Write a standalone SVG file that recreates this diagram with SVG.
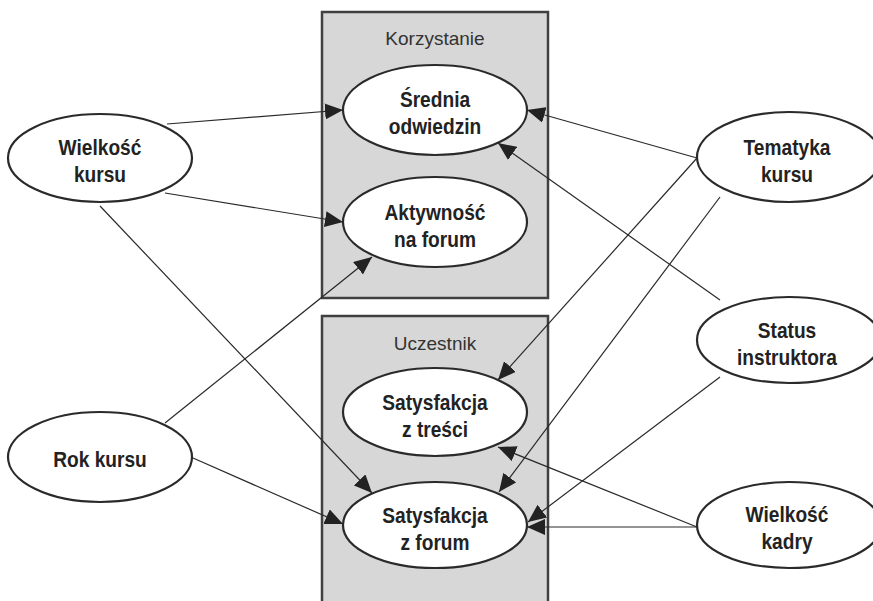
<svg xmlns="http://www.w3.org/2000/svg" width="873" height="601" viewBox="0 0 873 601">
<style>
.box{fill:#d6d7d6;stroke:#404040;stroke-width:2.5}
.node{fill:#fff;stroke:#2a2a2a;stroke-width:2.2}
.lbl{font-family:"Liberation Sans",Arial,sans-serif;font-weight:bold;font-size:22px;fill:#222;text-anchor:middle}
.ttl{font-family:"Liberation Sans",Arial,sans-serif;font-size:19px;fill:#333;text-anchor:middle}
.edge{stroke:#2a2a2a;stroke-width:1.2;fill:none;marker-end:url(#arr)}
</style>
<defs>
<marker id="arr" markerUnits="userSpaceOnUse" markerWidth="19" markerHeight="16" viewBox="0 0 19 16" refX="18" refY="8" orient="auto">
<path d="M0,0 L18,8 L0,16 Z" fill="#222"/>
</marker>
</defs>
<g id="group-korzystanie">
<rect class="box" x="322" y="12" width="226" height="286"/>
<text class="ttl" x="435" y="45">Korzystanie</text>
</g>
<g id="group-uczestnik">
<rect class="box" x="322" y="316" width="226" height="300"/>
<text class="ttl" x="435" y="350">Uczestnik</text>
</g>
<g id="connectors">
<line class="edge" x1="167" y1="124" x2="343" y2="110"/>
<line class="edge" x1="165" y1="193" x2="343" y2="222"/>
<line class="edge" x1="100" y1="206" x2="372" y2="493"/>
<line class="edge" x1="165" y1="423" x2="372" y2="257"/>
<line class="edge" x1="193" y1="458" x2="343" y2="524"/>
<line class="edge" x1="697" y1="158" x2="527" y2="110"/>
<line class="edge" x1="697" y1="158" x2="498" y2="380"/>
<line class="edge" x1="720" y1="197" x2="499" y2="492"/>
<line class="edge" x1="720" y1="300" x2="498" y2="143"/>
<line class="edge" x1="720" y1="377" x2="528" y2="522"/>
<line class="edge" x1="697" y1="527" x2="498" y2="447"/>
<line class="edge" x1="697" y1="527" x2="527" y2="527"/>
</g>
<g id="srednia-odwiedzin">
<ellipse class="node" cx="435" cy="110" rx="92" ry="45"/>
<g transform="translate(435,0) scale(0.87,1)"><text class="lbl" x="0" y="107">Średnia</text><text class="lbl" x="0" y="134">odwiedzin</text></g>
</g>
<g id="aktywnosc-na-forum">
<ellipse class="node" cx="435" cy="222" rx="92" ry="45"/>
<g transform="translate(435,0) scale(0.87,1)"><text class="lbl" x="0" y="220">Aktywność</text><text class="lbl" x="0" y="247">na forum</text></g>
</g>
<g id="satysfakcja-z-tresci">
<ellipse class="node" cx="435" cy="412" rx="92" ry="44"/>
<g transform="translate(435,0) scale(0.87,1)"><text class="lbl" x="0" y="410">Satysfakcja</text><text class="lbl" x="0" y="437">z treści</text></g>
</g>
<g id="satysfakcja-z-forum">
<ellipse class="node" cx="435" cy="525" rx="92" ry="43"/>
<g transform="translate(435,0) scale(0.87,1)"><text class="lbl" x="0" y="523">Satysfakcja</text><text class="lbl" x="0" y="550">z forum</text></g>
</g>
<g id="wielkosc-kursu">
<ellipse class="node" cx="100" cy="158" rx="92" ry="44"/>
<g transform="translate(100,0) scale(0.87,1)"><text class="lbl" x="0" y="155">Wielkość</text><text class="lbl" x="0" y="182">kursu</text></g>
</g>
<g id="rok-kursu">
<ellipse class="node" cx="100" cy="457" rx="92" ry="45"/>
<g transform="translate(100,0) scale(0.87,1)"><text class="lbl" x="0" y="467">Rok kursu</text></g>
</g>
<g id="tematyka-kursu">
<ellipse class="node" cx="789" cy="157" rx="92" ry="45"/>
<g transform="translate(787,0) scale(0.87,1)"><text class="lbl" x="0" y="155">Tematyka</text><text class="lbl" x="0" y="182">kursu</text></g>
</g>
<g id="status-instruktora">
<ellipse class="node" cx="789" cy="340" rx="92" ry="43"/>
<g transform="translate(787,0) scale(0.87,1)"><text class="lbl" x="0" y="338">Status</text><text class="lbl" x="0" y="365">instruktora</text></g>
</g>
<g id="wielkosc-kadry">
<ellipse class="node" cx="789" cy="525" rx="92" ry="43"/>
<g transform="translate(787,0) scale(0.87,1)"><text class="lbl" x="0" y="522">Wielkość</text><text class="lbl" x="0" y="549">kadry</text></g>
</g>
</svg>
